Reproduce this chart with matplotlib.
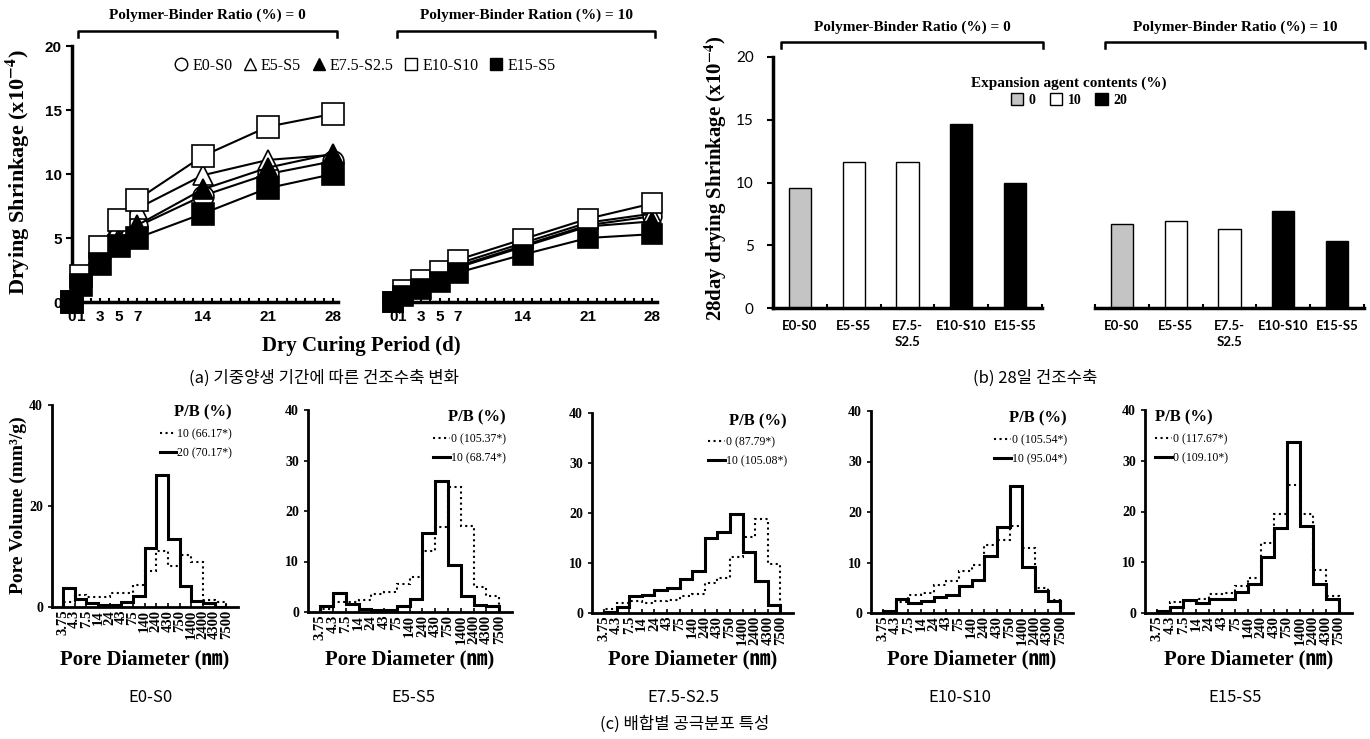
import numpy as np
import matplotlib.pyplot as plt
from matplotlib.lines import Line2D
from matplotlib.patches import Patch

plt.rcParams["font.family"] = ["Liberation Serif", "Noto Sans CJK KR"]
plt.rcParams["mathtext.fontset"] = "stix"

SERIF = ["Liberation Serif", "Noto Sans CJK KR"]
SANS = ["Liberation Sans", "DejaVu Sans"]
CALI = ["Lato", "DejaVu Sans"]
KR = ["Noto Sans CJK KR", "DejaVu Sans"]

W, H = 1370, 739

# (a) drying shrinkage vs dry curing period
DAYS = [0, 1, 3, 5, 7, 14, 21, 28]
DAY_LABELS = ["0", "1", "3", "5", "7", "14", "21", "28"]
MIXES = ["E0-S0", "E5-S5", "E7.5-S2.5", "E10-S10", "E15-S5"]

pb0_e0s0 = [0, 1.5, 4.2, 5.6, 5.9, 8.3, 10.0, 11.0]
pb0_e5s5 = [0, 1.8, 3.3, 5.0, 7.3, 9.9, 11.1, 11.5]
pb0_e75s25 = [0, 1.4, 3.1, 4.8, 6.0, 8.8, 10.5, 11.6]
pb0_e10s10 = [0, 2.0, 4.3, 6.4, 8.0, 11.4, 13.7, 14.7]
pb0_e15s5 = [0, 1.3, 3.0, 4.4, 5.0, 6.9, 8.9, 10.0]

pb10_e0s0 = [0, 0.7, 1.3, 2.0, 2.8, 4.4, 6.0, 6.7]
pb10_e5s5 = [0, 0.8, 1.5, 2.1, 3.0, 4.6, 6.2, 6.9]
pb10_e75s25 = [0, 0.7, 1.3, 1.9, 2.7, 4.3, 5.9, 6.3]
pb10_e10s10 = [0, 0.9, 1.7, 2.4, 3.3, 4.9, 6.5, 7.7]
pb10_e15s5 = [0, 0.5, 1.0, 1.6, 2.3, 3.7, 5.0, 5.3]

# (b) 28 day drying shrinkage
BAR_LABELS = ["E0-S0", "E5-S5", "E7.5-\nS2.5", "E10-S10", "E15-S5"]
agent_content = [0, 10, 10, 20, 20]
bar_pb0 = [9.6, 11.6, 11.6, 14.7, 10.0]
bar_pb10 = [6.7, 6.9, 6.3, 7.7, 5.3]

# (c) pore size distribution
PORE_TICKS = ["3.75", "4.3", "7.5", "14", "24", "43", "75", "140", "240", "430",
              "750", "1400", "2400", "4300", "7500"]
e0s0_dot = [0.9, 2.4, 2.0, 1.9, 2.7, 2.7, 4.3, 7.2, 11.0, 8.2, 10.3, 9.0, 1.4, 0.9]
e0s0_sol = [3.8, 1.5, 0.7, 0.35, 0.35, 1.0, 2.2, 11.7, 26.1, 13.4, 4.1, 1.2, 0.85, 0]
e5s5_dot = [0.5, 2.0, 2.0, 2.3, 3.5, 4.0, 5.5, 7.0, 12.0, 16.8, 24.8, 17.0, 5.0, 3.2]
e5s5_sol = [1.1, 3.75, 1.6, 0.65, 0.35, 0.35, 1.25, 2.6, 15.7, 25.9, 9.3, 3.1, 1.3, 1.1]
e75_dot = [0.9, 2.1, 2.4, 2.1, 2.5, 2.6, 3.4, 3.9, 6.0, 7.0, 11.3, 15.2, 18.8, 9.8]
e75_sol = [0.3, 1.2, 3.5, 3.7, 4.7, 5.0, 6.9, 8.5, 15.0, 16.3, 19.9, 12.2, 6.4, 1.6]
e10_dot = [0.2, 2.2, 3.6, 3.9, 5.6, 6.3, 8.3, 9.6, 13.4, 14.5, 17.2, 12.9, 5.0, 2.5]
e10_sol = [0.3, 2.7, 1.9, 2.3, 3.2, 3.6, 5.4, 6.5, 11.3, 17.1, 25.2, 9.1, 4.3, 2.4]
e15_dot = [0.2, 2.1, 2.3, 2.8, 3.7, 3.9, 5.3, 6.9, 13.8, 19.5, 25.3, 19.6, 8.5, 3.3]
e15_sol = [0.3, 1.1, 2.5, 2.0, 2.7, 2.8, 4.2, 5.8, 11.0, 16.8, 33.6, 17.2, 5.7, 2.8]
pb_labels = [("10 (66.17*)", "20 (70.17*)"), ("0 (105.37*)", "10 (68.74*)"),
             ("0 (87.79*)", "10 (105.08*)"), ("0 (105.54*)", "10 (95.04*)"),
             ("0 (117.67*)", "0 (109.10*)")]

fig = plt.figure(figsize=(W / 100, H / 100), dpi=100)


def add_ax(left, top, right, bottom):
    return fig.add_axes([left / W, 1 - bottom / H, (right - left) / W, (bottom - top) / H])


def bracket(x0, x1, y, ty, label, drop=6):
    fig.add_artist(Line2D([x0 / W, x0 / W, x1 / W, x1 / W],
                          [1 - (y + drop) / H, 1 - y / H, 1 - y / H, 1 - (y + drop) / H],
                          color="k", lw=1.8, transform=fig.transFigure))
    fig.text((x0 + x1) / 2 / W, 1 - ty / H, label, ha="center", va="center",
             fontsize=11, fontweight="bold", family=SERIF)


# ---------------- (a) ----------------
styles = [("o", "white", 15), ("^", "white", 15), ("^", "black", 15), ("s", "white", 16), ("s", "black", 16)]
ax_a1 = add_ax(72, 46, 338, 302)
ax_a2 = add_ax(384, 46, 657, 302)
groups = [(ax_a1, [pb0_e0s0, pb0_e5s5, pb0_e75s25, pb0_e10s10, pb0_e15s5], (0, 28.5)),
          (ax_a2, [pb10_e0s0, pb10_e5s5, pb10_e75s25, pb10_e10s10, pb10_e15s5], (-1.0, 28.5))]
for ax, series, xlim in groups:
    for vals, (m, fc, ms) in zip(series, styles):
        ax.plot(DAYS, vals, color="k", lw=1.5, marker=m, ms=ms if ax is ax_a1 else ms - 1.5,
                mfc=fc, mec="k", mew=1.2, clip_on=False, zorder=3)
    ax.set_xlim(*xlim)
    ax.set_ylim(0, 20)
    ax.set_xticks(DAYS)
    ax.set_xticklabels(DAY_LABELS, fontsize=11, fontweight="bold", family=SANS)
    ax.set_xticks(range(0, 29), minor=True)
    ax.tick_params(axis="x", which="both", direction="in", length=3, width=1.5, pad=6)
    for s in ("top", "right"):
        ax.spines[s].set_visible(False)
    ax.spines["bottom"].set_linewidth(2.5)
    ax.patch.set_alpha(0)

ax_a1.spines["left"].set_linewidth(2.5)
ax_a1.set_yticks(range(0, 21, 5))
ax_a1.set_yticklabels([str(v) for v in range(0, 21, 5)], fontsize=11, fontweight="bold", family=SANS)
ax_a1.tick_params(axis="y", length=4, width=1.5)
ax_a2.spines["left"].set_visible(False)
ax_a2.set_yticks([])

handles = [Line2D([], [], ls="none", marker=m, mfc=fc, mec="k", ms=9) for m, fc, _ in styles]
fig.legend(handles, MIXES, ncol=5, loc="center", bbox_to_anchor=(365 / W, 1 - 66 / H), frameon=False,
           prop=dict(family=SERIF, size=11.5), handlelength=0.8, handletextpad=0.3, columnspacing=0.7)

bracket(78, 337, 31, 15, "Polymer-Binder Ratio (%) = 0")
bracket(397, 655, 31, 15, "Polymer-Binder Ration (%) = 10")
fig.text(18 / W, 1 - 172 / H, "Drying Shrinkage (x10$^{\\mathbf{-4}}$)", rotation=90, ha="center",
         va="center", fontsize=16, fontweight="bold", family=SERIF)
fig.text(361 / W, 1 - 346 / H, "Dry Curing Period (d)", ha="center", va="center",
         fontsize=15, fontweight="bold", family=SERIF)
fig.text(324 / W, 1 - 378 / H, "(a) 기중양생 기간에 따른 건조수축 변화", ha="center", va="center",
         fontsize=12, family=KR)

# ---------------- (b) ----------------
agent_colors = {0: "#c4c4c4", 10: "white", 20: "black"}
ax_b1 = add_ax(773, 57, 1042, 308)
ax_b2 = add_ax(1095, 57, 1364, 308)
x = np.arange(len(BAR_LABELS))
for ax, vals in ((ax_b1, bar_pb0), (ax_b2, bar_pb10)):
    ax.bar(x, vals, width=0.41, color=[agent_colors[a] for a in agent_content], edgecolor="k", lw=1)
    ax.set_xlim(-0.5, 4.5)
    ax.set_ylim(0, 20)
    ax.set_xticks(x)
    ax.set_xticklabels(BAR_LABELS, fontsize=9.5, fontweight="bold", family=CALI, linespacing=1.4)
    ax.set_xticks([-0.5, 0.5, 1.5, 2.5, 3.5, 4.5], minor=True)
    ax.tick_params(axis="x", which="major", length=0, pad=9)
    ax.tick_params(axis="x", which="minor", direction="in", length=3, width=1.5)
    for s in ("top", "right"):
        ax.spines[s].set_visible(False)
    ax.spines["bottom"].set_linewidth(2.5)
    ax.patch.set_alpha(0)
ax_b1.spines["left"].set_linewidth(2.5)
ax_b1.set_yticks(range(0, 21, 5))
ax_b1.set_yticklabels([str(v) for v in range(0, 21, 5)], fontsize=11, family=CALI)
ax_b1.tick_params(axis="y", length=4, width=1.5, pad=10)
ax_b2.spines["left"].set_visible(False)
ax_b2.set_yticks([])

bracket(781, 1043, 42, 27, "Polymer-Binder Ratio (%) = 0")
bracket(1105, 1365, 42, 27, "Polymer-Binder Ratio (%) = 10")
fig.text(716 / W, 1 - 178 / H, "28day drying Shrinkage (x10$^{\\mathbf{-4}}$)", rotation=90, ha="center",
         va="center", fontsize=15, fontweight="bold", family=SERIF)
fig.legend([Patch(fc=agent_colors[a], ec="k") for a in (0, 10, 20)], ["0", "10", "20"], ncol=3,
           loc="upper center", bbox_to_anchor=(1069 / W, 1 - 70 / H), frameon=False,
           title="Expansion agent contents (%)", prop=dict(family=SERIF, size=10, weight="bold"),
           title_fontproperties=dict(family=SERIF, size=11, weight="bold"),
           handlelength=0.9, handleheight=0.9, handletextpad=0.4, columnspacing=1.0,
           borderpad=0, labelspacing=0.2)
fig.text(1035 / W, 1 - 378 / H, "(b) 28일 건조수축", ha="center", va="center", fontsize=12, family=KR)

# ---------------- (c) ----------------
c_boxes = [(52, 405, 238, 607), (308, 410, 512, 612), (592, 413, 793, 613),
           (871, 411, 1073, 613), (1145, 410, 1352, 613)]
c_series = [(e0s0_dot, e0s0_sol), (e5s5_dot, e5s5_sol), (e75_dot, e75_sol),
            (e10_dot, e10_sol), (e15_dot, e15_sol)]
c_names = ["E0-S0", "E5-S5", "E7.5-S2.5", "E10-S10", "E15-S5"]
name_x = [150, 413, 683, 960, 1235]
edges = np.arange(len(PORE_TICKS))
for i, (box, (dot, sol), labs) in enumerate(zip(c_boxes, c_series, pb_labels)):
    ax = add_ax(*box)
    ax.stairs(dot, edges, baseline=0, color="k", lw=1.5, ls=":")
    ax.stairs(sol, edges, baseline=0, color="k", lw=2.2)
    ax.set_xlim(-0.95, 15.0)
    ax.set_ylim(0, 40)
    ax.set_xticks(edges)
    ax.set_xticklabels(PORE_TICKS, rotation=90, fontsize=10.5, fontweight="bold", family=SERIF)
    ax.tick_params(axis="x", direction="in", length=3, width=1.2, pad=2)
    yt = [0, 20, 40] if i == 0 else [0, 10, 20, 30, 40]
    ax.set_yticks(yt)
    ax.set_yticklabels([str(v) for v in yt], fontsize=10, fontweight="bold", family=SERIF)
    ax.tick_params(axis="y", length=3, width=1.2)
    for s in ("top", "right"):
        ax.spines[s].set_visible(False)
    ax.spines["bottom"].set_linewidth(2)
    ax.spines["left"].set_linewidth(2)
    ax.patch.set_alpha(0)
    left = i == 4
    ax.legend([Line2D([], [], color="k", lw=1.5, ls=":"), Line2D([], [], color="k", lw=2.2)], labs,
              title="P/B (%)", loc="upper left" if left else "upper right",
              bbox_to_anchor=(0.02, 1.03) if left else (1.0, 1.03), frameon=False,
              prop=dict(family=SERIF, size=8.5), title_fontproperties=dict(family=SERIF, size=12, weight="bold"),
              alignment="left" if left else "right", handlelength=1.4, handletextpad=0.1,
              labelspacing=0.6, borderpad=0)
    fig.text((box[0] + box[2]) / 2 / W, 1 - 659 / H, "Pore Diameter (㎚)", ha="center", va="center",
             fontsize=15, fontweight="bold", family=SERIF)
    fig.text(name_x[i] / W, 1 - 697 / H, c_names[i], ha="center", va="center", fontsize=12, family=KR)

fig.text(18 / W, 1 - 505 / H, "Pore Volume (mm³/g)", rotation=90, ha="center", va="center",
         fontsize=14, fontweight="bold", family=SERIF)
fig.text(685 / W, 1 - 724 / H, "(c) 배합별 공극분포 특성", ha="center", va="center", fontsize=12, family=KR)

fig.savefig("out.png", dpi=100)
